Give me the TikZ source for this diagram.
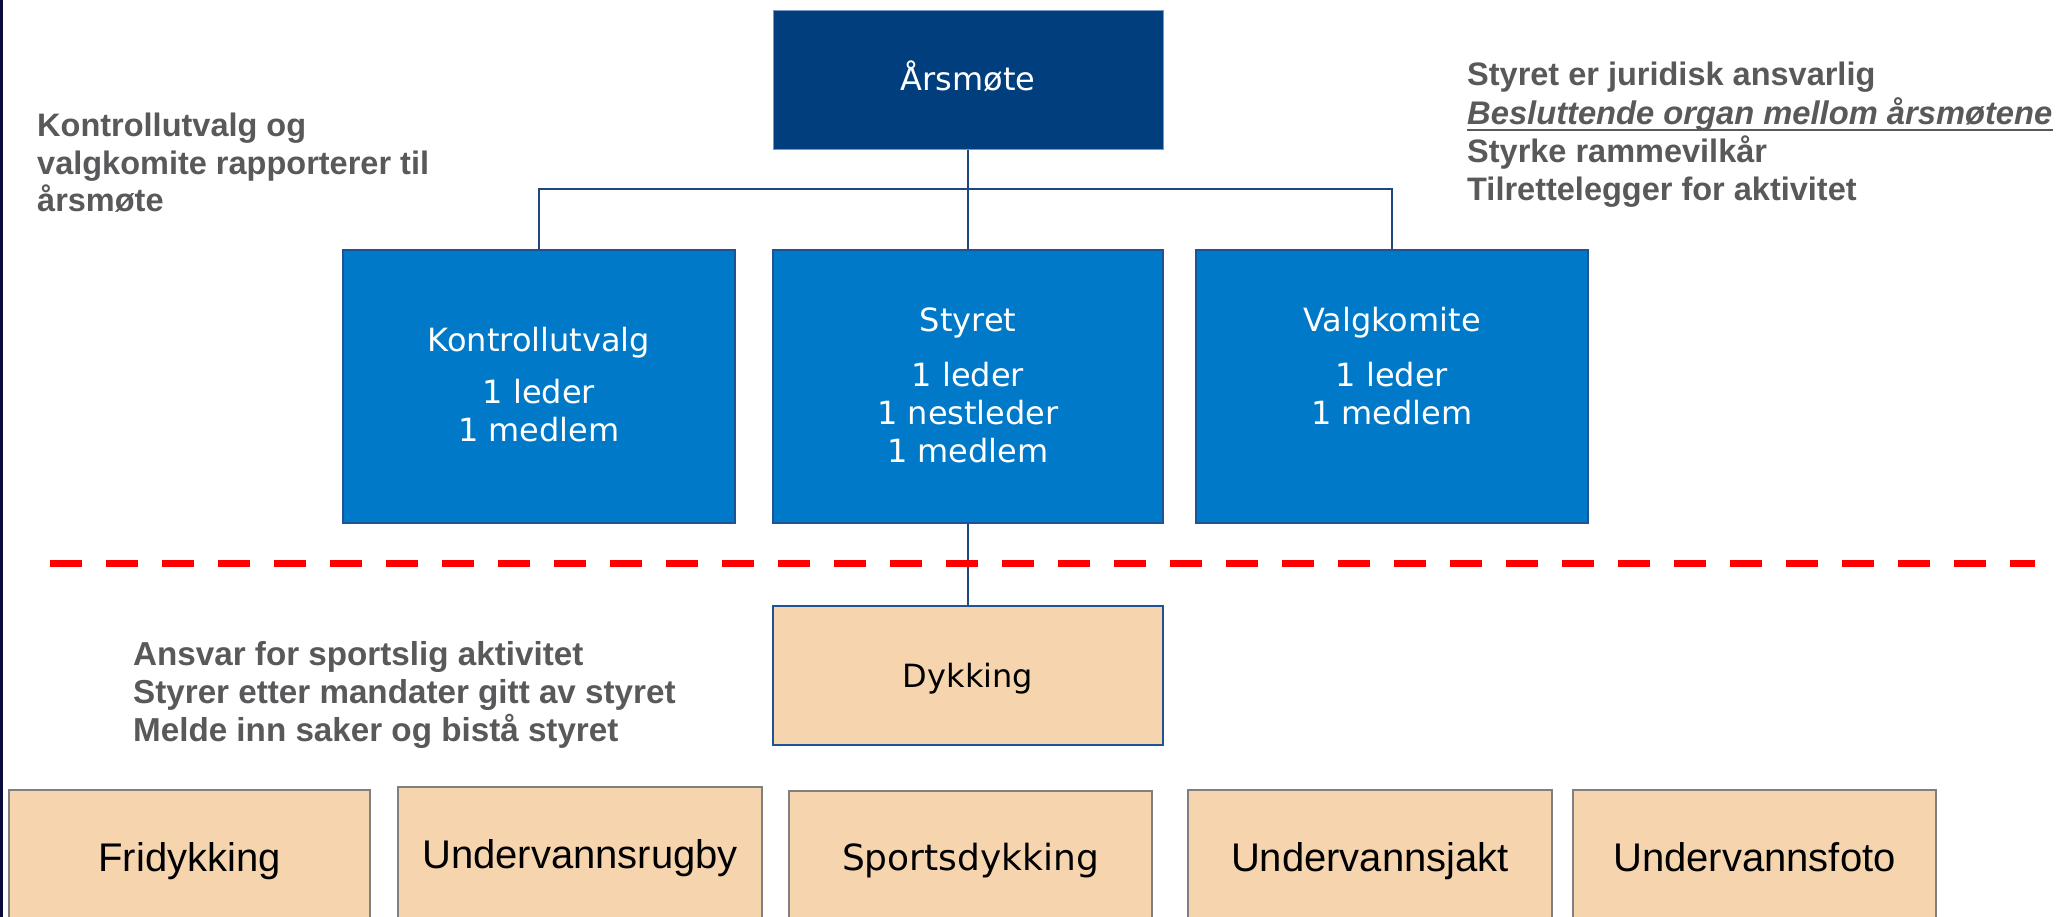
\documentclass[tikz,border=0pt]{standalone}
\usepackage{fontspec}
\setmainfont{DejaVu Sans}
\newfontfamily\arialf{Liberation Sans}
\definecolor{topblue}{RGB}{0,62,126}
\definecolor{midblue}{RGB}{0,121,200}
\definecolor{edgeblue}{RGB}{30,84,150}
\definecolor{connblue}{RGB}{31,73,125}
\definecolor{peach}{RGB}{246,213,174}
\definecolor{greytxt}{RGB}{89,89,91}
\definecolor{greyedge}{RGB}{128,128,128}
\definecolor{leftbar}{RGB}{12,12,60}
\definecolor{dashred}{RGB}{255,0,0}
\tikzset{
  topbox/.style={draw=edgeblue!60!white, line width=1pt, fill=topblue, minimum width=390pt, minimum height=139pt, inner sep=0pt},
  midbox/.style={draw=edgeblue, line width=1.2pt, fill=midblue, minimum height=273pt, inner sep=0pt},
  dykbox/.style={draw=edgeblue, line width=1.2pt, fill=peach, minimum width=390pt, minimum height=139pt, inner sep=0pt},
  actbox/.style={draw=greyedge, line width=1.2pt, fill=peach, minimum height=160pt, inner sep=0pt},
  wtxt/.style={text=white, font=\fontsize{32}{38}\selectfont, anchor=base, inner sep=0pt},
  btxt/.style={text=black, font=\fontsize{32}{38}\selectfont, anchor=base, inner sep=0pt},
  atxt/.style={text=black, font=\arialf\fontsize{40}{46}\selectfont, anchor=base, inner sep=0pt},
  gtxt/.style={text=greytxt, font=\arialf\bfseries\fontsize{32.5}{38}\selectfont, anchor=base west, inner sep=0pt},
  gtxtb/.style={gtxt, font=\arialf\bfseries\fontsize{33.2}{38}\selectfont},
  conn/.style={draw=connblue, line width=1.5pt},
  reddash/.style={draw=dashred, line width=7pt, dash pattern=on 32pt off 24pt}
}
\begin{document}
\begin{tikzpicture}[x=1pt,y=-1pt]
\useasboundingbox (0,0) rectangle (2059,917);
\clip (0,0) rectangle (2059,917);
\fill[white] (0,0) rectangle (2059,917);
\fill[leftbar] (0,0) rectangle (3,917);

% boxes
\node[topbox] (arsmote) at (968,80) {};
\node[midbox, minimum width=392pt] (kontroll) at (539,386.5) {};
\node[midbox, minimum width=390pt] (styret) at (968,386.5) {};
\node[midbox, minimum width=392pt] (valg) at (1392,386.5) {};
\node[dykbox] (dykking) at (968,675.5) {};
\node[actbox, minimum width=361pt] (frid) at (189.5,870) {};
\node[actbox, minimum width=364pt] (rugby) at (580,867) {};
\node[actbox, minimum width=363pt] (sport) at (970.5,871) {};
\node[actbox, minimum width=364pt] (jakt) at (1370,870) {};
\node[actbox, minimum width=363pt] (foto) at (1754.5,870) {};

% connectors
\coordinate (bus) at (968,189);
\draw[conn] (arsmote.south) -- (bus);
\draw[conn] (kontroll.north) |- (bus) -| (valg.north);
\draw[conn] (bus) -- (styret.north);
\draw[conn] (styret.south) -- (dykking.north);

% red dashed separator
\coordinate (dl) at (50,563);
\coordinate (dr) at (2035,563);
\draw[reddash] (dl) -- (dr);

% box texts
\node[wtxt] (tars) at (968,91) {Årsmøte};
\node[wtxt] (tk1) at (539,352) {Kontrollutvalg};
\node[wtxt] (tk2) at (539,403) {1 leder};
\node[wtxt] (tk3) at (539,441) {1 medlem};
\node[wtxt] (ts1) at (968,332) {Styret};
\node[wtxt] (ts2) at (968,386) {1 leder};
\node[wtxt] (ts3) at (968,424) {1 nestleder};
\node[wtxt] (ts4) at (968,462) {1 medlem};
\node[wtxt] (tv1) at (1392,332) {Valgkomite};
\node[wtxt] (tv2) at (1392,386) {1 leder};
\node[wtxt] (tv3) at (1392,424) {1 medlem};
\node[btxt] (tdyk) at (968,687) {Dykking};
\node[atxt] (tfrid) at (189.5,871) {Fridykking};
\node[atxt] (trugby) at (580,868) {Undervannsrugby};
\node[btxt, font=\fontsize{36}{42}\selectfont] (tsport) at (970.5,870) {Sportsdykking};
\node[atxt] (tjakt) at (1370,871) {Undervannsjakt};
\node[atxt] (tfoto) at (1754.5,871) {Undervannsfoto};

% grey notes
\node[gtxt] (l1) at (37,137) {Kontrollutvalg og};
\node[gtxt] (l2) at (37,175) {valgkomite rapporterer til};
\node[gtxt] (l3) at (37,212) {årsmøte};

\node[gtxt] (r1) at (1467,86) {Styret er juridisk ansvarlig};
\node[gtxt, font=\arialf\bfseries\itshape\fontsize{32.7}{38}\selectfont] (r2) at (1467,125) {Besluttende organ mellom årsmøtene};
\draw[draw=greytxt, line width=2.5pt] ([yshift=-5pt]r2.base west) -- ([yshift=-5pt]r2.base east);
\node[gtxt] (r3) at (1467,163) {Styrke rammevilkår};
\node[gtxt] (r4) at (1467,201) {Tilrettelegger for aktivitet};

\node[gtxtb] (b1) at (133,665) {Ansvar for sportslig aktivitet};
\node[gtxtb] (b2) at (133,703) {Styrer etter mandater gitt av styret};
\node[gtxtb] (b3) at (133,741) {Melde inn saker og bistå styret};
\end{tikzpicture}
\end{document}
